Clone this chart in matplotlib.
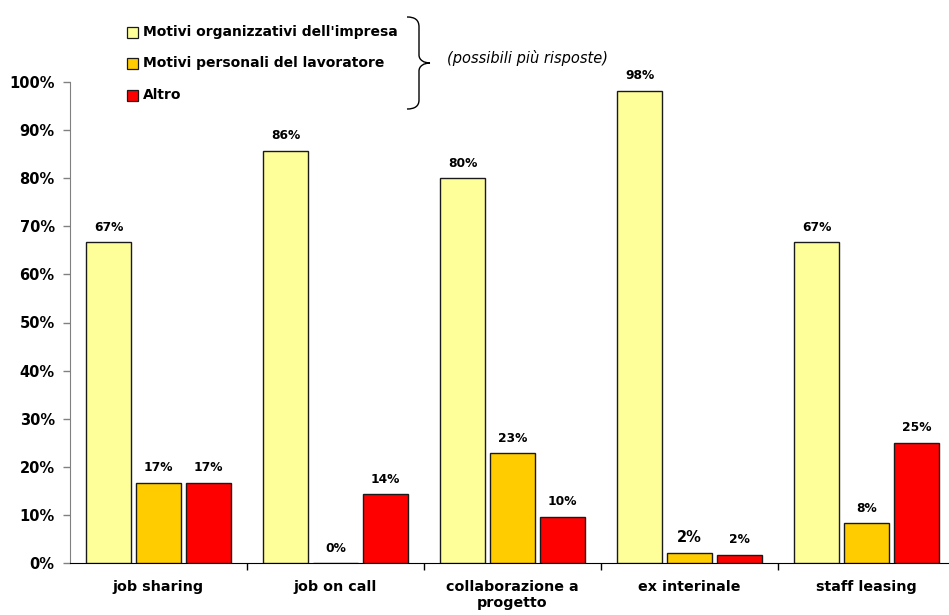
import matplotlib
matplotlib.use("Agg")
import matplotlib.pyplot as plt
from matplotlib.patches import Rectangle, PathPatch
from matplotlib.path import Path
import numpy as np

plt.rcParams['font.family'] = ['DejaVu Sans']

categories = ["job sharing", "job on call", "collaborazione a\nprogetto", "ex interinale", "staff leasing"]
series_names = ["Motivi organizzativi dell'impresa", "Motivi personali del lavoratore", "Altro"]
organizzativi = [66.7, 85.7, 80.0, 98.2, 66.7]
personali = [16.7, 0.0, 22.9, 2.1, 8.3]
altro = [16.7, 14.3, 9.6, 1.7, 25.0]
colors = ["#FFFF99", "#FFCC00", "#FF0000"]
note = "(possibili più risposte)"

W, H = 949, 615
fig = plt.figure(figsize=(W / 100, H / 100), dpi=100)

def fx(px):
    return px / W

def fy(py):
    return 1 - py / H

ax = fig.add_axes([fx(70), fy(563), (955 - 70) / W, (563 - 82) / H])

x = np.arange(len(categories))
offsets = [-0.282, 0.0, 0.282]
width = 0.254
for si, (vals, off, col) in enumerate(zip([organizzativi, personali, altro], offsets, colors)):
    bars = ax.bar(x + off, vals, width, color=col, edgecolor="#1a1a1a", linewidth=1.0, zorder=3)
    for ci, (b, v) in enumerate(zip(bars, vals)):
        fs = 10.5 if (si == 1 and ci == 3) else 8.8
        ax.annotate(f"{v:.0f}%", (b.get_x() + b.get_width() / 2, v),
                    xytext=(0, 6), textcoords="offset points",
                    ha="center", va="bottom", fontsize=fs, fontweight="bold")

ax.set_xlim(-0.5, len(categories) - 0.5)
ax.set_ylim(0, 100)

ax.set_yticks(np.arange(0, 101, 10))
ax.set_yticklabels([f"{v}%" for v in range(0, 101, 10)], fontsize=10.5, fontweight="bold")
ax.tick_params(axis="y", direction="out", length=5, width=1, color="#808080", pad=6)

ax.set_xticks(np.arange(0.5, len(categories) - 0.5, 1))
ax.set_xticklabels([])
ax.tick_params(axis="x", which="major", direction="out", length=5, width=1, color="black")
ax.set_xticks(x, minor=True)
ax.set_xticklabels(categories, minor=True, fontsize=10.3, fontweight="bold", linespacing=1.25)
ax.tick_params(axis="x", which="minor", length=0, pad=12)

for s in ["top", "right"]:
    ax.spines[s].set_visible(False)
ax.spines["left"].set_color("#808080")
ax.spines["bottom"].set_color("black")

# legend drawn in figure pixel space
rows_y = [32, 63, 95]
for name, col, ry in zip(series_names, colors, rows_y):
    fig.patches.append(Rectangle((fx(127), fy(ry + 6)), 11 / W, 11 / H,
                                 transform=fig.transFigure, facecolor=col,
                                 edgecolor="#1a1a1a", linewidth=0.9))
    fig.text(fx(143), fy(ry), name, fontsize=10, fontweight="bold", va="center", ha="left")

# curly brace grouping the legend entries
verts = [
    (407, 17), (415, 17), (419, 20), (419, 27),
    (419, 55),
    (419, 60), (424, 63), (430, 63),
    (424, 63), (419, 66), (419, 71),
    (419, 100),
    (419, 106), (415, 109), (407, 109),
]
codes = [Path.MOVETO, Path.CURVE4, Path.CURVE4, Path.CURVE4,
         Path.LINETO,
         Path.CURVE4, Path.CURVE4, Path.CURVE4,
         Path.CURVE4, Path.CURVE4, Path.CURVE4,
         Path.LINETO,
         Path.CURVE4, Path.CURVE4, Path.CURVE4]
brace = Path([(fx(a), fy(b)) for a, b in verts], codes)
fig.patches.append(PathPatch(brace, transform=fig.transFigure, facecolor="none",
                             edgecolor="black", linewidth=1.0))
fig.text(fx(447), fy(58), note, fontsize=10.5, fontstyle="italic", va="center", ha="left")

fig.savefig("out.png", dpi=100)
